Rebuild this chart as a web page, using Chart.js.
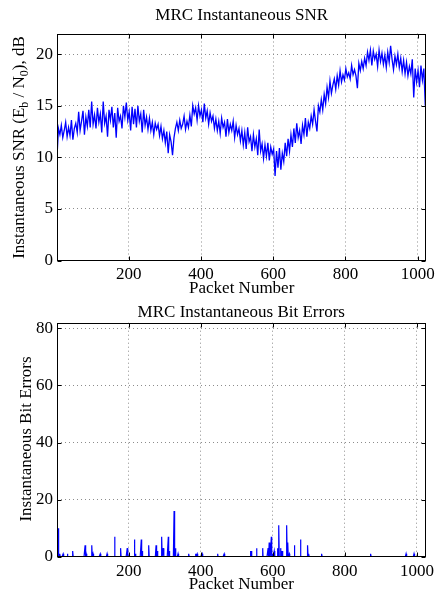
<!DOCTYPE html>
<html>
<head>
<meta charset="utf-8">
<script src="https://cdn.jsdelivr.net/npm/chart.js@4.4.1/dist/chart.umd.min.js"></script>
<style>
  html, body { margin: 0; padding: 0; background: #fff; }
  .plot { position: absolute; left: 0; }
  .plot canvas { display: block; }
  #snrBox { top: 0; }
  #errBox { top: 300px; }
</style>
</head>
<body>
<div class="plot" id="snrBox"><canvas id="snrChart" width="439" height="300"></canvas></div>
<div class="plot" id="errBox"><canvas id="errChart" width="439" height="299"></canvas></div>
<script>
// tick labels
const packetTicks = [200, 400, 600, 800, 1000];
const snrTicks = [0, 5, 10, 15, 20];
const errTicks = [0, 20, 40, 60, 80];

// SNR read every 4th packet (1, 5, 9 ... 1021), dB
const packetStep = 4;
const snrValues = [
  10.0, 12.8, 12.2, 13.1, 11.9, 12.6, 13.4, 12.0, 12.9, 12.1, 13.6, 11.7, 12.8, 13.3, 12.4, 14.4,
  12.6, 13.5, 14.5, 12.2, 13.9, 13.0, 14.6, 12.9, 15.4, 13.2, 14.1, 12.8, 14.8, 13.4, 14.2, 12.4,
  15.4, 13.3, 14.0, 12.0, 14.6, 13.6, 14.9, 12.9, 14.3, 11.9, 14.8, 13.5, 14.0, 12.8, 15.0, 13.9,
  15.3, 13.6, 14.4, 12.6, 14.9, 13.2, 14.7, 12.9, 15.0, 13.5, 14.2, 12.4, 14.6, 13.1, 13.9, 12.7,
  13.8, 12.6, 13.4, 12.2, 13.3, 12.7, 13.2, 12.1, 13.0, 11.8, 12.6, 11.4, 12.5, 10.4, 12.2, 11.5,
  10.2, 11.9, 12.8, 13.4, 12.6, 13.6, 12.8, 13.2, 14.0, 12.7, 13.5, 12.9, 14.1, 13.0, 15.0, 14.2,
  14.8, 13.6, 15.0, 14.0, 14.6, 13.4, 15.2, 13.8, 14.5, 13.2, 14.3, 13.5, 14.0, 12.8, 13.7, 12.6,
  13.5, 12.3, 13.8, 12.9, 13.4, 12.0, 13.7, 12.4, 13.2, 12.6, 13.5, 11.9, 13.1, 12.2, 12.8, 11.6,
  12.6, 11.2, 12.4, 10.8, 12.9, 11.5, 12.0, 10.6, 12.2, 11.0, 11.8, 10.2, 12.7, 10.6, 11.3, 9.9,
  11.2, 10.1, 11.4, 9.7, 11.0, 10.3, 10.8, 8.2, 10.6, 9.0, 10.9, 8.8, 10.4, 9.6, 11.4, 10.1,
  11.8, 10.6, 12.2, 11.0, 12.8, 11.4, 13.3, 11.9, 12.6, 11.3, 13.1, 12.2, 13.8, 12.0, 13.4, 12.8,
  14.0, 13.2, 14.6, 13.5, 12.5, 15.0, 14.4, 15.6, 14.6, 16.1, 15.2, 16.8, 15.8, 17.4, 16.2, 17.0,
  17.6, 16.6, 17.9, 17.0, 18.4, 17.3, 18.0, 17.5, 18.6, 17.8, 18.2, 17.6, 18.9, 18.0, 18.5, 17.9,
  16.7, 19.1, 18.4, 19.3, 18.6, 19.6, 18.9, 20.2, 19.4, 20.4, 18.9, 20.3, 19.5, 20.0, 18.8, 20.4,
  19.3, 20.1, 19.0, 19.9, 18.7, 20.2, 19.2, 20.8, 19.5, 18.5, 19.8, 19.0, 20.0, 18.7, 19.6, 18.3,
  19.4, 18.1, 19.2, 17.9, 18.8, 18.1, 19.5, 15.8, 18.6, 17.3, 18.4, 16.8, 18.9, 17.5, 18.6, 15.0
];

// packets with bit errors (all others are 0)
const errorPackets = [3, 5, 9, 18, 30, 45, 79, 82, 98, 101, 121, 140, 161, 178, 196, 198, 216, 219, 235, 238,
  256, 276, 279, 292, 296, 310, 313, 326, 330, 337, 367, 386, 390, 404, 447, 465, 539, 541, 555, 572,
  587, 590, 596, 600, 604, 614, 617, 622, 625, 627, 639, 642, 646, 660, 677, 697, 700, 736, 872, 970, 992];
const errorCounts = [10, 10, 1, 1, 1, 2, 4, 1, 4, 1, 1, 1, 7, 3, 3, 1, 6, 1, 6, 2,
  4, 4, 2, 7, 3, 7, 2, 16, 3, 1, 1, 1, 1, 1, 1, 1, 2, 2, 3, 3,
  3, 5, 7, 1, 2, 3, 11, 3, 2, 2, 11, 5, 1, 4, 6, 4, 1, 1, 1, 1, 1];
const packetCount = 1024;

const snrPoints = snrValues.map((v, i) => ({ x: 1 + i * packetStep, y: v }));
const bitErrors = [];
for (let p = 1; p <= packetCount; p++) bitErrors.push({ x: p, y: 0 });
errorPackets.forEach((p, i) => { bitErrors[p - 1].y = errorCounts[i]; });

Chart.defaults.font.family = '"Liberation Serif", "Times New Roman", serif';
Chart.defaults.font.size = 17;
Chart.defaults.color = '#000';

// matlab style box with inward ticks
const framePlugin = {
  id: 'frame',
  afterDatasetsDraw(chart) {
    const { ctx, chartArea: a, scales } = chart;
    const l = Math.round(a.left) + 0.5, r = Math.round(a.right) - 0.5;
    const t = Math.round(a.top) + 0.5, b = Math.round(a.bottom) - 0.5;
    ctx.save();
    ctx.strokeStyle = '#000';
    ctx.lineWidth = 1;
    ctx.strokeRect(l, t, r - l, b - t);
    ctx.beginPath();
    scales.x.ticks.forEach((tk) => {
      const px = Math.round(scales.x.getPixelForValue(tk.value)) + 0.5;
      ctx.moveTo(px, b); ctx.lineTo(px, b - 4);
      ctx.moveTo(px, t); ctx.lineTo(px, t + 4);
    });
    scales.y.ticks.forEach((tk) => {
      const py = Math.round(scales.y.getPixelForValue(tk.value)) + 0.5;
      ctx.moveTo(l, py); ctx.lineTo(l + 4, py);
      ctx.moveTo(r, py); ctx.lineTo(r - 4, py);
    });
    ctx.stroke();
    ctx.restore();
  },
};

// rotated y label with subscripts
function yLabel(parts, x, y) {
  return {
    id: 'yLabel',
    afterDraw(chart) {
      const ctx = chart.ctx;
      const big = '17px "Liberation Serif"', small = '12px "Liberation Serif"';
      ctx.save();
      ctx.translate(x, y);
      ctx.rotate(-Math.PI / 2);
      ctx.fillStyle = '#000';
      ctx.textBaseline = 'alphabetic';
      let total = 0;
      parts.forEach((p) => { ctx.font = p.sub ? small : big; total += ctx.measureText(p.text).width; });
      let cx = -total / 2;
      parts.forEach((p) => {
        ctx.font = p.sub ? small : big;
        ctx.fillText(p.text, cx, p.sub ? 4 : 0);
        cx += ctx.measureText(p.text).width;
      });
      ctx.restore();
    },
  };
}

function packetAxis(height, tickPad, titlePad) {
  return {
    type: 'linear', min: 1, max: packetCount,
    afterBuildTicks: (s) => { s.ticks = packetTicks.map((v) => ({ value: v })); },
    afterFit: (s) => { s.height = height; },
    grid: { color: '#8c8c8c', lineWidth: 1, drawTicks: false },
    border: { display: false, dash: [1, 3] },
    ticks: { padding: tickPad, maxRotation: 0, callback: (v) => String(v) },
    title: { display: true, text: 'Packet Number', padding: { top: 0, bottom: titlePad } },
  };
}

function valueAxis(max, ticks) {
  return {
    min: 0, max: max,
    afterBuildTicks: (s) => { s.ticks = ticks.map((v) => ({ value: v })); },
    afterFit: (s) => { s.width = 57; },
    grid: { color: '#8c8c8c', lineWidth: 1, drawTicks: false },
    border: { display: false, dash: [1, 3] },
    ticks: { padding: 4, callback: (v) => String(v) },
  };
}

new Chart(document.getElementById('snrChart'), {
  type: 'line',
  data: { datasets: [{ data: snrPoints, borderColor: '#0000ff', borderWidth: 1.3, pointRadius: 0, tension: 0, fill: false }] },
  options: {
    responsive: false, animation: false, devicePixelRatio: 1,
    layout: { padding: { left: 0, right: 11, top: 0, bottom: 0 } },
    plugins: {
      legend: { display: false }, tooltip: { enabled: false },
      title: { display: true, fullSize: false, text: 'MRC Instantaneous SNR', font: { size: 17, weight: 'normal', lineHeight: 1.2 }, padding: { top: 5.6, bottom: 7.5 } },
    },
    scales: { x: packetAxis(39.5, 4, 0.8), y: valueAxis(22, snrTicks) },
  },
  plugins: [framePlugin, yLabel([
    { text: 'Instantaneous SNR (E' }, { text: 'b', sub: true }, { text: ' / N' }, { text: '0', sub: true }, { text: '), dB' },
  ], 24, 147.5)],
});

new Chart(document.getElementById('errChart'), {
  type: 'line',
  data: { datasets: [{ data: bitErrors, borderColor: '#0000ff', borderWidth: 1.2, pointRadius: 0, tension: 0, fill: false }] },
  options: {
    responsive: false, animation: false, devicePixelRatio: 1,
    layout: { padding: { left: 0, right: 11, top: 0, bottom: 0 } },
    plugins: {
      legend: { display: false }, tooltip: { enabled: false },
      title: { display: true, fullSize: false, text: 'MRC Instantaneous Bit Errors', font: { size: 17, weight: 'normal', lineHeight: 1.15 }, padding: { top: 3.1, bottom: 0.05 } },
    },
    scales: { x: packetAxis(42.3, 4.8, 3.8), y: valueAxis(82, errTicks) },
  },
  plugins: [framePlugin, yLabel([{ text: 'Instantaneous Bit Errors' }], 30.5, 139)],
});
</script>
</body>
</html>
